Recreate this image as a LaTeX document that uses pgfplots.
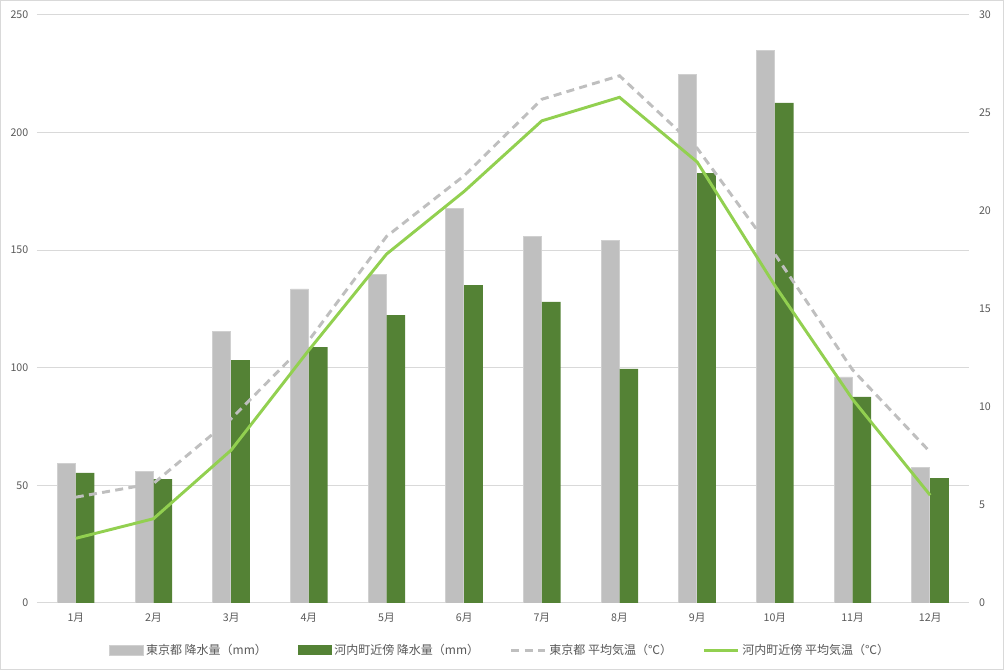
\documentclass[border=0pt]{standalone}
\usepackage{fontspec}
\setmainfont{Noto Sans CJK JP}
\usepackage{pgfplots}
\pgfplotsset{compat=1.18}
\definecolor{tkgray}{HTML}{BFBFBF}
\definecolor{tkedge}{HTML}{D0D0D0}
\definecolor{kwgreen}{HTML}{548235}
\definecolor{kwline}{HTML}{92D050}
\definecolor{gridc}{HTML}{D9D9D9}
\definecolor{labc}{HTML}{595959}

\pgfplotsset{
  common/.style={
    at={(27.75pt,50.25pt)}, anchor=south west,
    scale only axis, width=699pt, height=441pt,
    xmin=0.5, xmax=12.5,
    axis line style={draw=none},
    major tick length=0pt,
    tick label style={font=\fontsize{8}{9.6}\selectfont, color=labc},
    /pgf/number format/assume math mode=true,
  },
  boxlegend/.style={legend image code/.code={\fill[##1] (0pt,-3.75pt) rectangle (25.5pt,3.75pt);}},
  linelegend/.style={legend image code/.code={\draw[##1] (0pt,0pt) -- (25.5pt,0pt);}},
}

\begin{document}
\begin{tikzpicture}[x=0.75pt,y=0.75pt]
\draw[gridc, line width=0.75pt] (0.5,0.5) rectangle (1003.5,669.5);
\begin{axis}[common,
  ymin=0, ymax=250, ytick={0,50,...,250},
  ymajorgrids, grid style={gridc, line width=0.75pt},
  xtick={1,...,12},
  xticklabels={1月,2月,3月,4月,5月,6月,7月,8月,9月,10月,11月,12月},
  xticklabel style={yshift=-4pt},
  yticklabel style={xshift=-3pt},
  legend columns=4,
  legend style={at={(0.497,-0.08)}, anchor=center, draw=none,
    font=\fontsize{9}{11}\selectfont, text=labc,
    /tikz/every even column/.append style={column sep=21pt}},
]
\addplot[ybar, bar width=13.5pt, bar shift=-7pt, fill=tkgray, draw=tkedge, line width=0.6pt, boxlegend]
  coordinates {(1,59.5) (2,56.1) (3,115.6) (4,133.5) (5,139.5) (6,167.9) (7,156.0) (8,154.3) (9,224.9) (10,235.1) (11,96.1) (12,57.8)};
\addlegendentry{東京都 降水量（mm）}
\addplot[ybar, bar width=14pt, bar shift=7pt, fill=kwgreen, draw=none, boxlegend]
  coordinates {(1,55.3) (2,52.7) (3,103.3) (4,108.8) (5,122.4) (6,135.2) (7,128.0) (8,99.5) (9,182.8) (10,212.6) (11,87.6) (12,53.1)};
\addlegendentry{河内町近傍 降水量（mm）}
\addlegendimage{tkgray, line width=2.2pt, dash pattern=on 6pt off 4pt, linelegend}
\addlegendentry{東京都 平均気温（℃）}
\addlegendimage{kwline, line width=2.2pt, linelegend}
\addlegendentry{河内町近傍 平均気温（℃）}
\end{axis}
\begin{axis}[common,
  ymin=0, ymax=30, ytick={0,5,...,30},
  axis y line*=right, axis x line=none,
  yticklabel style={xshift=4pt},
]
\addplot[tkgray, line width=2.2pt, dash pattern=on 6pt off 4pt, mark=none]
  coordinates {(1,5.4) (2,6.1) (3,9.4) (4,13.4) (5,18.7) (6,21.8) (7,25.7) (8,26.9) (9,23.2) (10,17.8) (11,11.9) (12,7.7)};
\addplot[kwline, line width=2.2pt, mark=none]
  coordinates {(1,3.3) (2,4.3) (3,7.8) (4,12.9) (5,17.8) (6,21.0) (7,24.6) (8,25.8) (9,22.5) (10,16.2) (11,10.4) (12,5.5)};
\end{axis}
\end{tikzpicture}
\end{document}
